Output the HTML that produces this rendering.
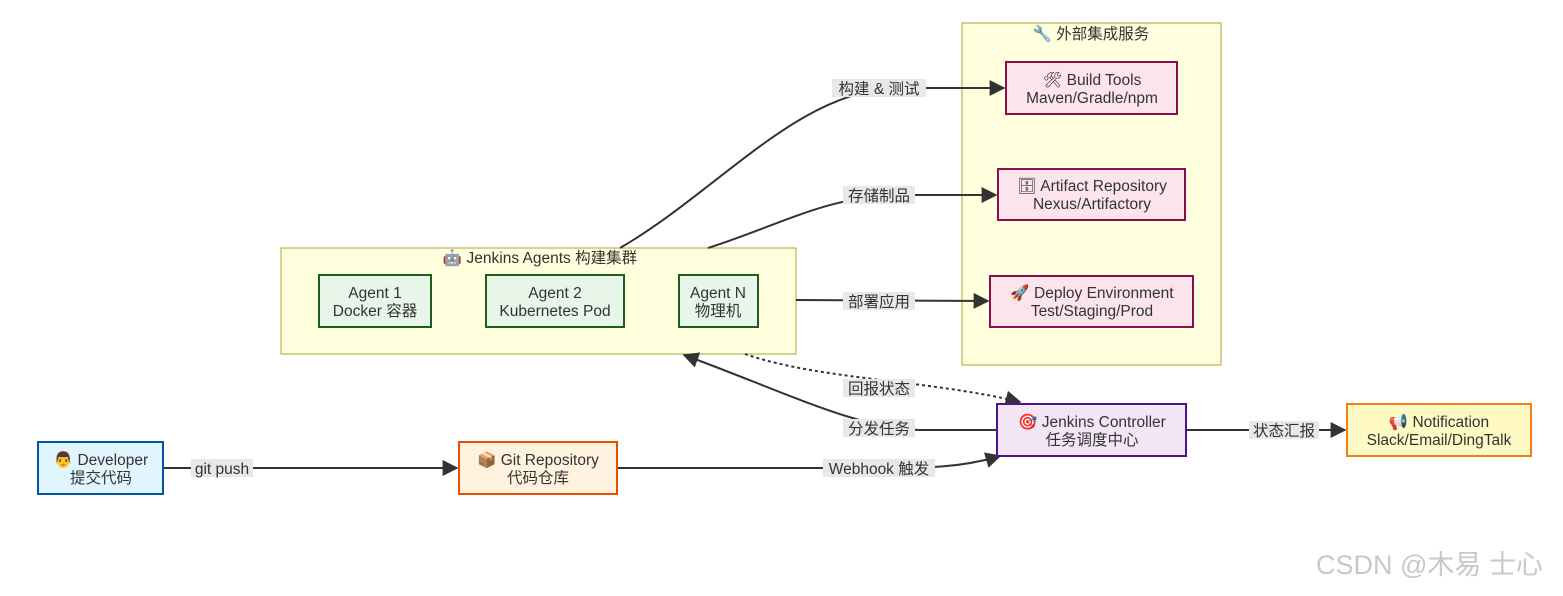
<!DOCTYPE html>
<html><head><meta charset="utf-8"><style>
html,body{margin:0;padding:0;background:#fff;}
svg text{font-family:"Liberation Sans","Noto Sans CJK SC",sans-serif;font-size:15.5px;fill:#333;}
</style></head><body>
<svg width="1563" height="591" viewBox="0 0 1563 591" xmlns="http://www.w3.org/2000/svg">
<defs>
<marker id="a" viewBox="0 0 10 10" refX="9" refY="5" markerWidth="8" markerHeight="8" orient="auto"><path d="M0,0L10,5L0,10z" fill="#333"/></marker>
</defs>
<rect x="962" y="23" width="259" height="342" fill="#ffffde" stroke="#aaaa33"/>
<rect x="281" y="248" width="515" height="106" fill="#ffffde" stroke="#aaaa33"/>
<g fill="none" stroke="#333" stroke-width="2">
<path d="M163,468L457,468" marker-end="url(#a)"/>
<path d="M617,468L860,468C930,468 960,468 1000,456" marker-end="url(#a)"/>
<path d="M1186,430L1345,430" marker-end="url(#a)"/>
<path d="M997,430L920,430C860,430 780,390 684,355" marker-end="url(#a)"/>
<path d="M745,354C820,380 930,380 1020,402" stroke-dasharray="3,3" marker-end="url(#a)"/>
<path d="M796,300L988,301" marker-end="url(#a)"/>
<path d="M708,248C780,225 830,195 900,195L996,195" marker-end="url(#a)"/>
<path d="M620,248C720,190 800,88 900,88L1004,88" marker-end="url(#a)"/>
</g>
<g stroke-width="2">
<rect x="319" y="275" width="112" height="52" fill="#e8f5e9" stroke="#1b5e20"/>
<rect x="486" y="275" width="138" height="52" fill="#e8f5e9" stroke="#1b5e20"/>
<rect x="679" y="275" width="79" height="52" fill="#e8f5e9" stroke="#1b5e20"/>
<rect x="1006" y="62" width="171" height="52" fill="#fce4ec" stroke="#880e4f"/>
<rect x="998" y="169" width="187" height="51" fill="#fce4ec" stroke="#880e4f"/>
<rect x="990" y="276" width="203" height="51" fill="#fce4ec" stroke="#880e4f"/>
<rect x="38" y="442" width="125" height="52" fill="#e1f5fe" stroke="#01579b"/>
<rect x="459" y="442" width="158" height="52" fill="#fff3e0" stroke="#e65100"/>
<rect x="997" y="404" width="189" height="52" fill="#f3e5f5" stroke="#4a148c"/>
<rect x="1347" y="404" width="184" height="52" fill="#fff9c4" stroke="#f57f17"/>
</g>
<g fill="#e8e8e8">
<rect x="191" y="459" width="62" height="18"/>
<rect x="823" y="459" width="112" height="18"/>
<rect x="1249" y="421" width="70" height="18"/>
<rect x="843" y="419" width="72" height="18"/>
<rect x="843" y="379" width="72" height="18"/>
<rect x="843" y="292" width="72" height="18"/>
<rect x="843" y="186" width="72" height="18"/>
<rect x="832" y="79" width="94" height="18"/>
</g>
<g text-anchor="middle">
<text x="222" y="474">git push</text>
<text x="879" y="474">Webhook 触发</text>
<text x="1284" y="436">状态汇报</text>
<text x="879" y="434">分发任务</text>
<text x="879" y="394">回报状态</text>
<text x="879" y="307">部署应用</text>
<text x="879" y="201">存储制品</text>
<text x="879" y="94">构建 &amp; 测试</text>
<text x="1091" y="39">🔧 外部集成服务</text>
<text x="540" y="263">🤖 Jenkins Agents 构建集群</text>
<text x="375" y="298">Agent 1</text><text x="375" y="316">Docker 容器</text>
<text x="555" y="298">Agent 2</text><text x="555" y="316">Kubernetes Pod</text>
<text x="718" y="298">Agent N</text><text x="718" y="316">物理机</text>
<text x="1092" y="85">🛠 Build Tools</text><text x="1092" y="103">Maven/Gradle/npm</text>
<text x="1092" y="191">🗄 Artifact Repository</text><text x="1092" y="209">Nexus/Artifactory</text>
<text x="1092" y="298">🚀 Deploy Environment</text><text x="1092" y="316">Test/Staging/Prod</text>
<text x="101" y="465">👨 Developer</text><text x="101" y="483">提交代码</text>
<text x="538" y="465">📦 Git Repository</text><text x="538" y="483">代码仓库</text>
<text x="1092" y="427">🎯 Jenkins Controller</text><text x="1092" y="445">任务调度中心</text>
<text x="1439" y="427">📢 Notification</text><text x="1439" y="445">Slack/Email/DingTalk</text>
</g>
<text x="1316" y="574" style="font-size:27px;fill:#c8c8c8">CSDN @木易 士心</text>
</svg>
</body></html>
